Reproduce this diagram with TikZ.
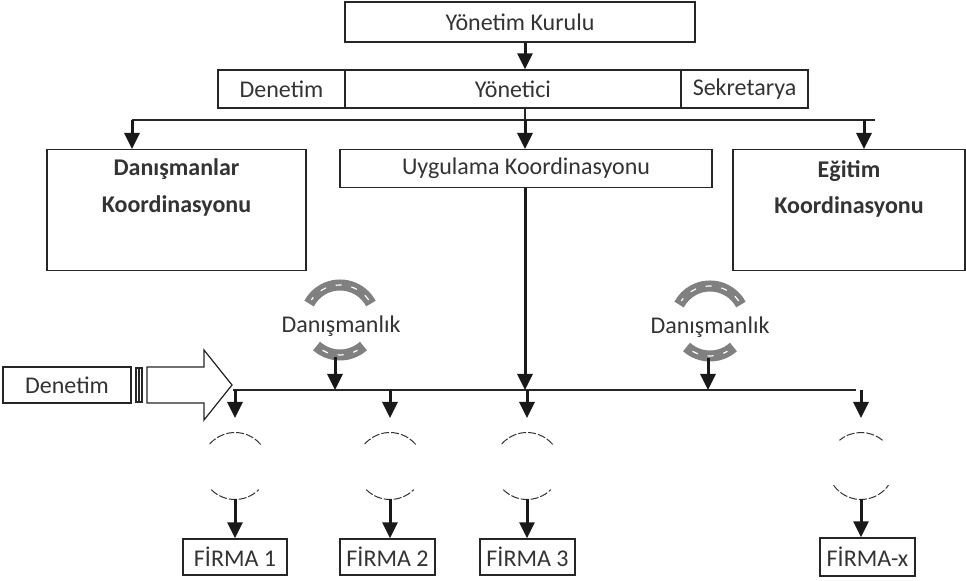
\documentclass[tikz,border=0pt]{standalone}
\usepackage{fontspec}
\setmainfont{Carlito}
\usetikzlibrary{arrows.meta,positioning}

\begin{document}
\begin{tikzpicture}[x=0.5pt,y=-0.5pt,
  box/.style={draw=black!85,line width=0.7pt,inner sep=0pt,text=black!80,font=\fontsize{12}{14.5}\selectfont},
  lbl/.style={inner sep=0pt,text=black!80,font=\fontsize{12}{14.5}\selectfont},
  arr/.style={draw=black!90,line width=1.5pt,-{Triangle[width=7.5pt,length=8pt]}},
  bus/.style={draw=black!85,line width=0.9pt},
  ring/.style={draw=black!80,line width=0.5pt,dash pattern=on 4pt off 1pt},
  swirl/.style={draw=gray,line width=5.5pt},
  swirldash/.style={draw=white,line width=0.6pt,dash pattern=on 3pt off 5pt}]
\useasboundingbox (0,0) rectangle (966,581);
% top levels
\node[box,minimum width=175pt,minimum height=20pt] (yk) at (520,22) {Yönetim Kurulu};
\node[box,minimum width=63.5pt,minimum height=19pt] (den1) at (281.5,89) {Denetim};
\node[box,minimum width=168pt,minimum height=19pt] (yon) at (513,89) {Yönetici};
\node[box,minimum width=63.5pt,minimum height=19pt] (sek) at (744.5,89) {Sekretarya};
\coordinate (spine) at (525,0);
\draw[arr] (yk.south -| spine) -- (yon.north -| spine);
% coordination boxes
\coordinate (b1L) at (132,120);
\coordinate (b1R) at (875,120);
\coordinate (b1e) at (864,120);
\node[box,anchor=north,minimum width=129.5pt,minimum height=60.5pt] (dan) at (176.5,149)
  {\parbox[c][60pt][t]{125pt}{\centering\bfseries\vspace{4pt}Danışmanlar\\[4pt]Koordinasyonu}};
\node[box,anchor=north,minimum width=186pt,minimum height=19pt] (uyg) at (526,149) {Uygulama Koordinasyonu};
\node[box,anchor=north,minimum width=116pt,minimum height=60.5pt] (egt) at (849,149)
  {\parbox[c][60pt][t]{112pt}{\centering\bfseries\vspace{5pt}Eğitim\\[3.5pt]Koordinasyonu}};
\draw[bus] (yon.south -| spine) -- (spine |- b1L);
\draw[bus] (b1L) -- (b1R);
\draw[arr] (b1L) -- (b1L |- dan.north);
\draw[arr] (spine |- b1L) -- (spine |- uyg.north);
\draw[arr] (b1e) -- (b1e |- egt.north);
% firm level
\coordinate (b2L) at (233,390);
\coordinate (b2R) at (856,390);
\node[box,minimum width=64pt,minimum height=18pt] (den2) at (67,385) {Denetim};
\draw[line width=0.6pt,black!85] (136,368) rectangle (139,402) (139,368) rectangle (142,402);
\draw[line width=0.6pt,black!85,fill=white] (147,367) -- (204,367) -- (204,350) -- (232,385) -- (204,420) -- (204,403) -- (147,403) -- cycle;
\draw[bus] (b2L) -- (b2R);
\draw[arr] (spine |- uyg.south) -- (spine |- b2L);
% consulting
\coordinate (swA) at (340,320);
\draw[swirl] ([shift={(28:17.5pt)}]swA) arc[start angle=28,end angle=152,radius=17.5pt];
\draw[swirl] ([shift={(228:17.5pt)}]swA) arc[start angle=228,end angle=312,radius=17.5pt];
\draw[swirldash] ([shift={(35:17.5pt)}]swA) arc[start angle=35,end angle=145,radius=17.5pt];
\draw[swirldash] ([shift={(240:17.5pt)}]swA) arc[start angle=240,end angle=300,radius=17.5pt];
\node[lbl] (dnsA) at (341,326) {Danışmanlık};
\coordinate (dnsAb) at (335,357);
\draw[arr] (dnsAb) -- (dnsAb |- b2L);
\coordinate (swB) at (710,321);
\draw[swirl] ([shift={(28:17.5pt)}]swB) arc[start angle=28,end angle=152,radius=17.5pt];
\draw[swirl] ([shift={(228:17.5pt)}]swB) arc[start angle=228,end angle=312,radius=17.5pt];
\draw[swirldash] ([shift={(35:17.5pt)}]swB) arc[start angle=35,end angle=145,radius=17.5pt];
\draw[swirldash] ([shift={(240:17.5pt)}]swB) arc[start angle=240,end angle=300,radius=17.5pt];
\node[lbl] (dnsB) at (710,327) {Danışmanlık};
\coordinate (dnsBb) at (708,358);
\draw[arr] (dnsBb) -- (dnsBb |- b2L);
% firms
\node[box,minimum width=52pt,minimum height=18pt] (f1) at (235,557) {FİRMA 1};
\node[box,minimum width=47.5pt,minimum height=18pt] (f2) at (387.5,557) {FİRMA 2};
\node[box,minimum width=47.5pt,minimum height=18pt] (f3) at (527.5,557) {FİRMA 3};
\node[box,minimum width=47.5pt,minimum height=19pt] (fx) at (867.5,557) {FİRMA-x};
\coordinate (c1) at (235,466);
\coordinate (c2) at (390,466);
\coordinate (c3) at (527,466);
\coordinate (cx) at (861,466);
\draw[ring] ([shift={(40:16.75pt)}]c1) arc[start angle=40,end angle=140,radius=16.75pt];
\draw[ring] ([shift={(225:16.75pt)}]c1) arc[start angle=225,end angle=315,radius=16.75pt];
\draw[ring] ([shift={(40:16.75pt)}]c2) arc[start angle=40,end angle=140,radius=16.75pt];
\draw[ring] ([shift={(225:16.75pt)}]c2) arc[start angle=225,end angle=315,radius=16.75pt];
\draw[ring] ([shift={(40:16.75pt)}]c3) arc[start angle=40,end angle=140,radius=16.75pt];
\draw[ring] ([shift={(225:16.75pt)}]c3) arc[start angle=225,end angle=315,radius=16.75pt];
\draw[ring] ([shift={(50:16.75pt)}]cx) arc[start angle=50,end angle=130,radius=16.75pt];
\draw[ring] ([shift={(215:16.75pt)}]cx) arc[start angle=215,end angle=325,radius=16.75pt];
\draw[arr] (c1 |- b2L) -- +(0,28);
\draw[arr] (c2 |- b2L) -- +(0,28);
\draw[arr] (c3 |- b2L) -- +(0,28);
\draw[arr] (cx |- b2R) -- +(0,28);
\draw[arr] ([yshift=-16.75pt]c1) -- (c1 |- f1.north);
\draw[arr] ([yshift=-16.75pt]c2) -- (c2 |- f2.north);
\draw[arr] ([yshift=-16.75pt]c3) -- (c3 |- f3.north);
\draw[arr] ([yshift=-16.75pt]cx) -- (cx |- fx.north);
\end{tikzpicture}
\end{document}
